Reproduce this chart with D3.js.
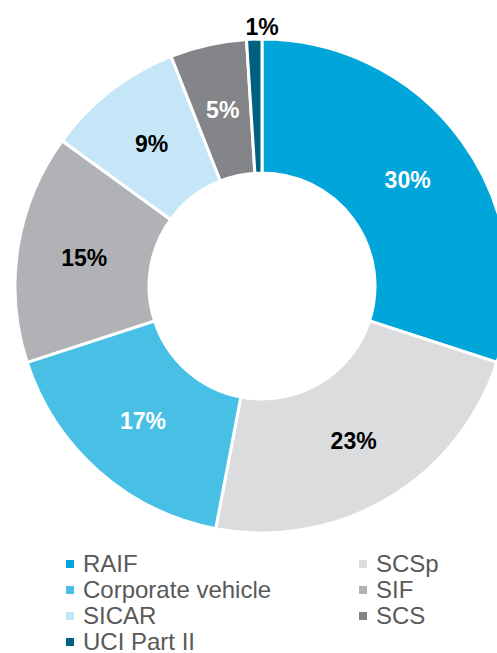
<!DOCTYPE html>
<html>
<head>
<meta charset="utf-8">
<script src="https://cdn.jsdelivr.net/npm/d3@7"></script>
<style>
  body { margin: 0; background: #fff; }
  svg { display: block; }
</style>
</head>
<body>
<div id="chart"></div>
<script>
// chart data
var categories = ["RAIF", "SCSp", "Corporate vehicle", "SIF", "SICAR", "SCS", "UCI Part II"];
var values = [30, 23, 17, 15, 9, 5, 1];
var colors = ["#00a5da", "#dbdcde", "#48c0e6", "#b1b2b5", "#c5e6f6", "#848588", "#00607f"];
var labelColors = ["#fff", "#000", "#fff", "#000", "#000", "#fff", "#000"];
// legend order (two columns)
var legendLeft = ["RAIF", "Corporate vehicle", "SICAR", "UCI Part II"];
var legendRight = ["SCSp", "SIF", "SCS"];

var svgWidth = 497;
var svgHeight = 653;
var cx = 262, cy = 286;
var outerR = 247, innerR = 113;

var svg = d3.select("#chart")
  .append("svg")
  .attr("width", svgWidth)
  .attr("height", svgHeight);

var data = categories.map(function(c, i) {
  return { name: c, value: values[i], color: colors[i], labelColor: labelColors[i] };
});

var pie = d3.pie()
  .sort(null)
  .value(d => d.value);

var arc = d3.arc()
  .innerRadius(innerR)
  .outerRadius(outerR);

var arcs = pie(data);

var chartGroup = svg.append("g")
  .attr("transform", `translate(${cx}, ${cy})`);

chartGroup.selectAll("path")
  .data(arcs)
  .enter()
  .append("path")
  .attr("d", arc)
  .attr("fill", d => d.data.color)
  .attr("stroke", "#fff")
  .attr("stroke-width", 3);

// percent labels, small slices go outside
chartGroup.selectAll("text.pct")
  .data(arcs)
  .enter()
  .append("text")
  .attr("class", "pct")
  .attr("transform", function(d) {
    if (d.data.value < 3) {
      var a = d.endAngle;
      var r = outerR + 12;
      return `translate(${Math.sin(a) * r}, ${-Math.cos(a) * r})`;
    }
    var c = arc.centroid(d);
    return `translate(${c[0]}, ${c[1]})`;
  })
  .attr("dy", "0.35em")
  .style("text-anchor", "middle")
  .style("font-family", "Liberation Sans, Arial, sans-serif")
  .style("font-weight", "bold")
  .style("font-size", "23px")
  .attr("fill", d => d.data.labelColor)
  .text(d => d.data.value + "%");

// legend
function drawLegend(names, x, y0) {
  var g = svg.append("g");
  var rows = g.selectAll("g")
    .data(names)
    .enter()
    .append("g")
    .attr("transform", (d, i) => `translate(${x}, ${y0 + i * 26})`);
  rows.append("rect")
    .attr("x", 0)
    .attr("y", -4)
    .attr("width", 8)
    .attr("height", 8)
    .attr("fill", d => colors[categories.indexOf(d)]);
  rows.append("text")
    .attr("x", 17)
    .attr("dy", "0.35em")
    .style("font-family", "Liberation Sans, Arial, sans-serif")
    .style("font-size", "24px")
    .attr("fill", "#595959")
    .text(d => d);
}

drawLegend(legendLeft, 66, 564);
drawLegend(legendRight, 359, 564);
</script>
</body>
</html>
